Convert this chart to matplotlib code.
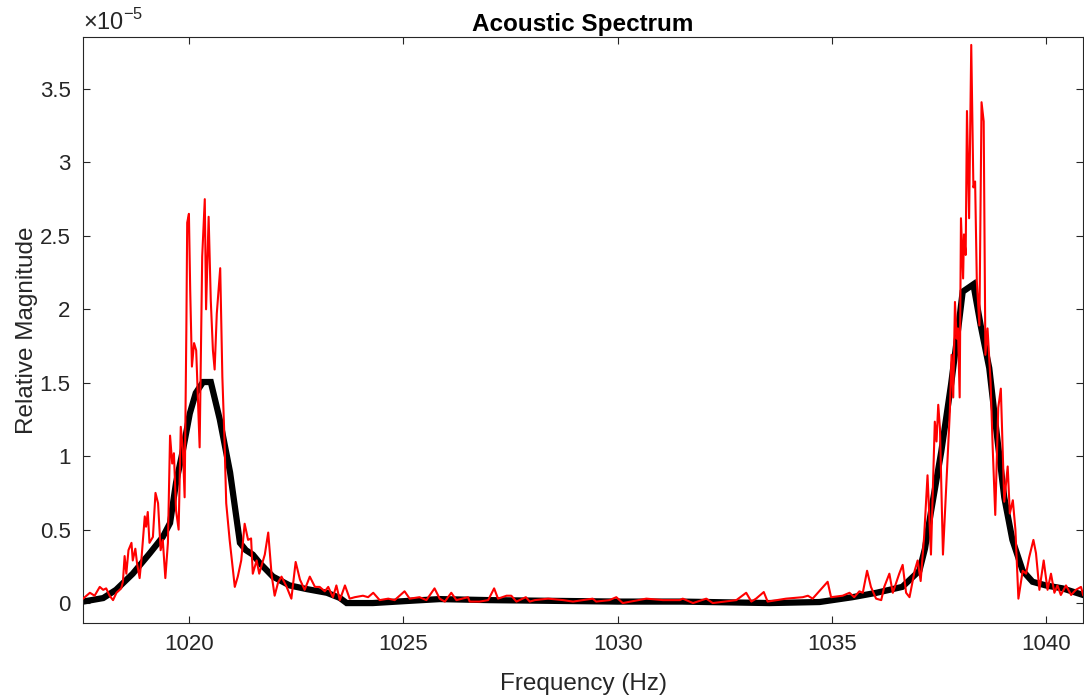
import matplotlib.pyplot as plt
from matplotlib.ticker import FuncFormatter

plt.rcParams['font.family'] = ['Liberation Sans', 'DejaVu Sans']
plt.rcParams['mathtext.fontset'] = 'custom'
plt.rcParams['mathtext.rm'] = 'Liberation Sans'

# raw spectrum (red), magnitude in units of 1e-5
freq_raw = [
    1017.53, 1017.69, 1017.80, 1017.92, 1018.00, 1018.07, 1018.15, 1018.23, 1018.31, 1018.42,
    1018.46, 1018.50, 1018.54, 1018.59, 1018.66, 1018.69, 1018.75, 1018.79, 1018.85, 1018.89,
    1018.97, 1019.00, 1019.04, 1019.08, 1019.16, 1019.22, 1019.28, 1019.34, 1019.39, 1019.45,
    1019.51, 1019.56, 1019.61, 1019.65, 1019.70, 1019.76, 1019.81, 1019.86, 1019.90, 1019.94,
    1019.96, 1020.00, 1020.03, 1020.07, 1020.12, 1020.17, 1020.25, 1020.31, 1020.37, 1020.40,
    1020.46, 1020.51, 1020.56, 1020.60, 1020.65, 1020.73, 1020.78, 1020.83, 1020.87, 1020.95,
    1021.07, 1021.14, 1021.22, 1021.30, 1021.38, 1021.45, 1021.49, 1021.58, 1021.64, 1021.69,
    1021.77, 1021.85, 1021.93, 1022.00, 1022.08, 1022.16, 1022.28, 1022.39, 1022.49, 1022.59,
    1022.70, 1022.82, 1022.94, 1023.05, 1023.17, 1023.25, 1023.36, 1023.44, 1023.52, 1023.64,
    1023.75, 1023.87, 1024.06, 1024.18, 1024.30, 1024.45, 1024.65, 1024.80, 1025.03, 1025.15,
    1025.38, 1025.54, 1025.73, 1025.85, 1025.97, 1026.12, 1026.24, 1026.51, 1026.55, 1026.78,
    1026.98, 1027.12, 1027.21, 1027.41, 1027.52, 1027.64, 1027.86, 1027.95, 1028.07, 1028.38,
    1028.73, 1028.96, 1029.42, 1029.50, 1029.81, 1029.97, 1030.12, 1030.67, 1031.06, 1031.45,
    1031.52, 1031.76, 1032.07, 1032.22, 1032.77, 1033.00, 1033.12, 1033.23, 1033.41, 1033.50,
    1033.93, 1034.32, 1034.44, 1034.55, 1034.90, 1034.98, 1035.25, 1035.41, 1035.52, 1035.64,
    1035.72, 1035.82, 1035.91, 1036.03, 1036.15, 1036.22, 1036.34, 1036.42, 1036.57, 1036.65,
    1036.73, 1036.81, 1036.93, 1037.00, 1037.07, 1037.15, 1037.23, 1037.31, 1037.40, 1037.44,
    1037.48, 1037.52, 1037.59, 1037.70, 1037.75, 1037.79, 1037.83, 1037.87, 1037.91, 1037.94,
    1037.98, 1038.01, 1038.06, 1038.08, 1038.12, 1038.15, 1038.20, 1038.25, 1038.30, 1038.34,
    1038.38, 1038.44, 1038.49, 1038.54, 1038.58, 1038.63, 1038.70, 1038.75, 1038.81, 1038.88,
    1038.94, 1039.02, 1039.10, 1039.15, 1039.22, 1039.28, 1039.35, 1039.45, 1039.53, 1039.60,
    1039.70, 1039.76, 1039.84, 1039.94, 1040.03, 1040.11, 1040.19, 1040.26, 1040.34, 1040.46,
    1040.58, 1040.69, 1040.81, 1040.86,
]
mag_raw = [
    0.03, 0.07, 0.05, 0.11, 0.09, 0.10, 0.05, 0.02, 0.07, 0.10,
    0.145, 0.32, 0.20, 0.36, 0.41, 0.29, 0.37, 0.27, 0.17, 0.29,
    0.59, 0.52, 0.62, 0.41, 0.45, 0.75, 0.68, 0.36, 0.43, 0.17,
    0.41, 1.14, 0.95, 1.02, 0.63, 0.50, 1.20, 1.04, 0.72, 1.86,
    2.59, 2.65, 2.13, 1.61, 1.77, 1.72, 1.06, 2.36, 2.75, 2.00,
    2.63, 2.06, 1.72, 1.59, 1.97, 2.28, 1.54, 1.11, 0.68, 0.43,
    0.11, 0.18, 0.29, 0.54, 0.43, 0.44, 0.20, 0.29, 0.20, 0.25,
    0.33, 0.48, 0.19, 0.05, 0.14, 0.18, 0.11, 0.03, 0.28, 0.16,
    0.09, 0.18, 0.11, 0.11, 0.08, 0.11, 0.04, 0.12, 0.02, 0.12,
    0.03, 0.04, 0.05, 0.04, 0.07, 0.02, 0.03, 0.02, 0.08, 0.03,
    0.04, 0.02, 0.10, 0.03, 0.01, 0.07, 0.02, 0.04, 0.01, 0.01,
    0.02, 0.10, 0.03, 0.05, 0.05, 0.01, 0.04, 0.01, 0.02, 0.03,
    0.02, 0.01, 0.03, 0.01, 0.02, 0.04, 0.00, 0.03, 0.02, 0.02,
    0.03, 0.00, 0.03, 0.00, 0.02, 0.07, 0.01, 0.03, 0.075, 0.01,
    0.03, 0.04, 0.05, 0.03, 0.145, 0.04, 0.05, 0.07, 0.04, 0.08,
    0.07, 0.22, 0.11, 0.03, 0.02, 0.11, 0.20, 0.07, 0.20, 0.26,
    0.07, 0.04, 0.22, 0.29, 0.15, 0.45, 0.87, 0.33, 1.235, 1.10,
    1.35, 1.19, 0.33, 0.99, 1.30, 1.69, 1.40, 2.05, 1.80, 1.87,
    1.40, 2.62, 2.21, 2.51, 2.37, 3.35, 2.62, 3.80, 2.83, 2.87,
    2.19, 1.89, 3.41, 3.28, 1.69, 1.87, 1.51, 1.06, 0.60, 1.33,
    1.46, 0.69, 0.93, 0.61, 0.70, 0.50, 0.03, 0.22, 0.20, 0.31,
    0.43, 0.34, 0.09, 0.29, 0.09, 0.20, 0.07, 0.12, 0.055, 0.12,
    0.055, 0.09, 0.11, 0.055,
]

# smoothed spectrum (black)
freq_smooth = [
    1017.53, 1018.00, 1018.30, 1018.69, 1019.09, 1019.39, 1019.56, 1019.70, 1019.86, 1020.02,
    1020.16, 1020.33, 1020.51, 1020.72, 1020.96, 1021.19, 1021.33, 1021.49, 1021.66, 1021.96,
    1022.35, 1022.75, 1023.22, 1023.52, 1023.68, 1024.29, 1025.08, 1025.85, 1027.00, 1028.50,
    1030.00, 1031.50, 1033.54, 1034.71, 1035.48, 1036.04, 1036.64, 1037.04, 1037.17, 1037.31,
    1037.55, 1037.78, 1037.93, 1038.05, 1038.30, 1038.47, 1038.67, 1038.83, 1039.02, 1039.21,
    1039.45, 1039.68, 1039.99, 1040.38, 1040.86,
]
mag_smooth = [
    0.01, 0.034, 0.09, 0.20, 0.34, 0.45, 0.545, 0.82, 1.04, 1.29,
    1.43, 1.505, 1.505, 1.25, 0.89, 0.41, 0.36, 0.33, 0.27, 0.18,
    0.12, 0.095, 0.07, 0.035, 0.0, 0.0, 0.014, 0.027, 0.02, 0.015,
    0.01, 0.01, 0.0, 0.007, 0.04, 0.07, 0.11, 0.22, 0.37, 0.62,
    1.03, 1.49, 1.83, 2.12, 2.17, 1.89, 1.60, 1.19, 0.72, 0.43,
    0.22, 0.145, 0.12, 0.10, 0.055,
]

xticks = [1020, 1025, 1030, 1035, 1040]
yticks = [0, 0.5, 1, 1.5, 2, 2.5, 3, 3.5]

axcol = '#262626'
fig = plt.figure(figsize=(10.84, 6.98), dpi=100)
ax = fig.add_axes([0.0766, 0.1074, 0.9226, 0.8396])

ax.plot(freq_smooth, mag_smooth, color='black', linewidth=4.5, solid_joinstyle='miter', zorder=2)
ax.plot(freq_raw, mag_raw, color='red', linewidth=1.5, zorder=3)

ax.set_xlim(1017.53, 1040.86)
ax.set_ylim(-0.136, 3.854)
ax.set_xticks(xticks)
ax.set_yticks(yticks)
ax.yaxis.set_major_formatter(FuncFormatter(lambda v, p: '%g' % v))
ax.tick_params(direction='in', length=5, width=0.8, colors=axcol, labelsize=16,
               top=True, right=True, labelcolor=axcol)
ax.tick_params(axis='x', pad=8)
ax.tick_params(axis='y', pad=9)
for s in ax.spines.values():
    s.set_color(axcol)
    s.set_linewidth(0.8)

ax.set_xlabel('Frequency (Hz)', fontsize=17.5, color=axcol, labelpad=13)
ax.set_ylabel('Relative Magnitude', fontsize=17.5, color=axcol, labelpad=1)
ax.set_title('Acoustic Spectrum', fontsize=17.5, fontweight='bold', pad=4)
ax.text(0.0, 1.004, r'$\times10^{-5}$', transform=ax.transAxes, fontsize=17,
        color=axcol, ha='left', va='bottom')

fig.savefig('out.png', dpi=100)
